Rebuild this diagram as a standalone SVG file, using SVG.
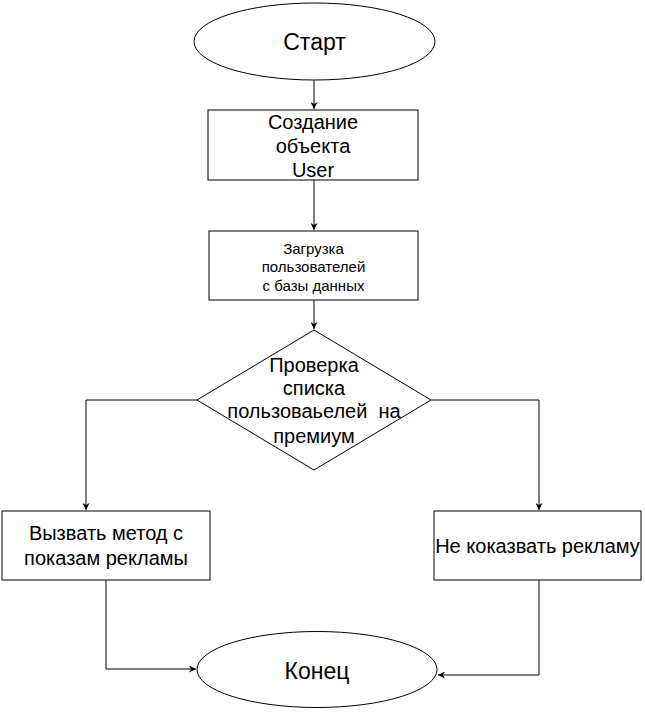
<svg xmlns="http://www.w3.org/2000/svg" width="645" height="712" viewBox="0 0 645 712">
<style>
.shape{fill:#fff;stroke:#000;stroke-width:1}
.edge{fill:none;stroke:#000;stroke-width:1}
text{font-family:"Liberation Sans",Arial,sans-serif;fill:#000;text-anchor:middle}
.t20{font-size:20px}
.t15{font-size:15px}
.t24{font-size:23px}
</style>
<defs>
<marker id="arr" viewBox="0 0 10 10" refX="10" refY="5" markerWidth="7" markerHeight="7" orient="auto" markerUnits="userSpaceOnUse">
<path d="M0,0 L10,5 L0,10 L3,5 z" fill="#000"/>
</marker>
</defs>
<rect width="645" height="712" fill="#fff"/>
<g id="connectors">
<path class="edge" d="M314,80 V109" marker-end="url(#arr)"/>
<path class="edge" d="M314,180 V230" marker-end="url(#arr)"/>
<path class="edge" d="M314,300 V329" marker-end="url(#arr)"/>
<path class="edge" d="M197,400 H86 V510" marker-end="url(#arr)"/>
<path class="edge" d="M431,400 H539 V510" marker-end="url(#arr)"/>
<path class="edge" d="M106,580 V669 H196" marker-end="url(#arr)"/>
<path class="edge" d="M539,580 V675 H438" marker-end="url(#arr)"/>
</g>
<g id="start">
<ellipse class="shape" cx="314.5" cy="41.5" rx="120.5" ry="38.5"/>
<text class="t24" x="314.5" y="50">Старт</text>
</g>
<g id="create-user">
<rect class="shape" x="208" y="110" width="210" height="70"/>
<text class="t20" x="313" y="129">Создание</text>
<text class="t20" x="313" y="153">объекта</text>
<text class="t20" x="313" y="177">User</text>
</g>
<g id="load-users">
<rect class="shape" x="209" y="231" width="209" height="69"/>
<text class="t15" x="313.5" y="254">Загрузка</text>
<text class="t15" x="313.5" y="272">пользователей</text>
<text class="t15" x="313.5" y="291"> с базы данных</text>
</g>
<g id="check-premium">
<polygon class="shape" points="314,330 431,400 314,470 197,400"/>
<text class="t20" x="314" y="372">Проверка</text>
<text class="t20" x="314" y="395">списка</text>
<text class="t20" x="314" y="418" xml:space="preserve">пользоваьелей  на</text>
<text class="t20" x="314" y="443">премиум</text>
</g>
<g id="show-ads">
<rect class="shape" x="2" y="511" width="208" height="69"/>
<text class="t20" x="106" y="540">Вызвать метод с</text>
<text class="t20" x="106" y="565">показам рекламы</text>
</g>
<g id="no-ads">
<rect class="shape" x="434" y="511" width="207" height="69"/>
<text class="t20" x="537.5" y="553">Не коказвать рекламу</text>
</g>
<g id="end">
<ellipse class="shape" cx="317" cy="669.5" rx="120" ry="38"/>
<text class="t24" x="317" y="679">Конец</text>
</g>
</svg>
